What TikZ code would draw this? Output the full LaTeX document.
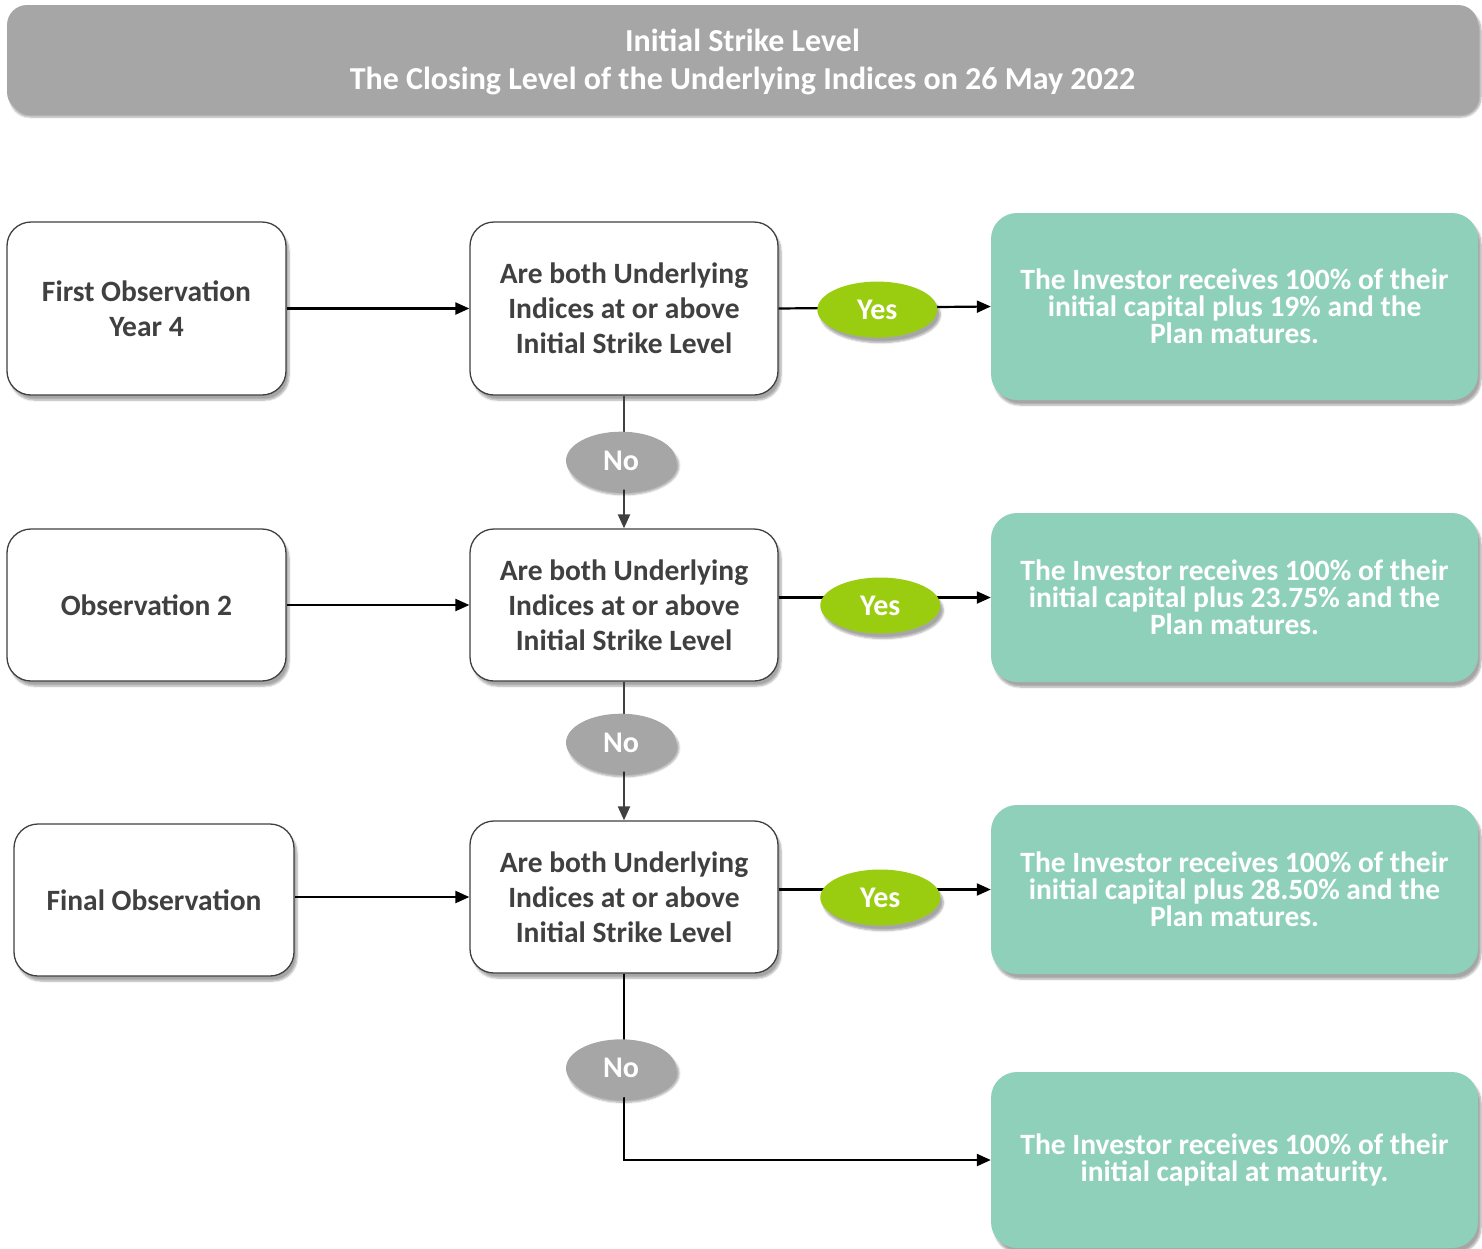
\documentclass[tikz,border=0pt]{standalone}
\usepackage{fontspec}
\setmainfont{Carlito}
\usetikzlibrary{arrows.meta,shapes.geometric,shadows.blur}
\definecolor{hdrgray}{HTML}{A6A6A6}
\definecolor{teal}{HTML}{8FD0BB}
\definecolor{yesgreen}{RGB}{154,205,16}
\definecolor{txtdark}{HTML}{404040}
\tikzset{
  shd/.style={blur shadow={shadow xshift=3pt,shadow yshift=-5pt,shadow opacity=35,shadow blur steps=6}},
  hdr/.style={shd,fill=hdrgray,rounded corners=20pt,inner sep=0pt},
  hdrtext/.style={text=white,font=\fontsize{32}{38}\selectfont\bfseries,align=center,inner sep=0pt},
  obsbox/.style={shd,draw=txtdark,line width=1.3pt,fill=white,rounded corners=24pt,text=txtdark,font=\fontsize{29.5}{35}\selectfont\bfseries,align=center,inner sep=0pt},
  resbox/.style={shd,fill=teal,rounded corners=26pt,text=white,font=\fontsize{29.5}{27}\selectfont\bfseries,align=center,inner sep=0pt},
  yesell/.style={ellipse,shd,fill=yesgreen,text=white,minimum width=120pt,minimum height=56pt,inner sep=0pt,font=\fontsize{30}{30}\selectfont\bfseries},
  noell/.style={ellipse,shd,fill=hdrgray,text=white,minimum width=110pt,minimum height=58pt,inner sep=0pt,font=\fontsize{30}{30}\selectfont\bfseries},
  conn/.style={line width=2.2pt,-{Triangle[length=14pt,width=12pt]}},
}
\begin{document}
\begin{tikzpicture}[x=1pt,y=-1pt]
\useasboundingbox (0,0) rectangle (1482,1248);
% header
\node[hdr,minimum width=1471pt,minimum height=107pt] (hdr) at (742.5,58.5) {};
\node[hdrtext] (hdrt) at ([yshift=-3pt]hdr.center)
  {Initial Strike Level\\The Closing Level of the Underlying Indices on 26 May 2022};
% left boxes
\node[obsbox,minimum width=279pt,minimum height=173pt] (l1) at (146.5,308.5) {First Observation\\Year 4};
\node[obsbox,minimum width=279pt,minimum height=152pt] (l2) at (146.5,605) {Observation 2};
\node[obsbox,minimum width=280pt,minimum height=152pt] (l3) at (154,900) {Final Observation};
% middle boxes
\node[obsbox,minimum width=308pt,minimum height=173pt] (m1) at (624,308.5) {Are both Underlying\\Indices at or above\\Initial Strike Level};
\node[obsbox,minimum width=308pt,minimum height=152pt] (m2) at (624,605) {Are both Underlying\\Indices at or above\\Initial Strike Level};
\node[obsbox,minimum width=308pt,minimum height=152pt] (m3) at (624,897) {Are both Underlying\\Indices at or above\\Initial Strike Level};
% result boxes
\node[resbox,minimum width=487pt,minimum height=187pt] (r1) at (1234.5,306.5) {The Investor receives 100\% of their\\initial capital plus 19\% and the\\Plan matures.};
\node[resbox,minimum width=487pt,minimum height=169pt] (r2) at (1234.5,597.5) {The Investor receives 100\% of their\\initial capital plus 23.75\% and the\\Plan matures.};
\node[resbox,minimum width=487pt,minimum height=169pt] (r3) at (1234.5,889.5) {The Investor receives 100\% of their\\initial capital plus 28.50\% and the\\Plan matures.};
\node[resbox,minimum width=487pt,minimum height=176pt] (r4) at (1234.5,1160) {The Investor receives 100\% of their\\initial capital at maturity.};
% left to middle
\draw[conn,black] (l1.east) -- (m1.west);
\draw[conn,black] (l2.east) -- (m2.west);
\draw[conn,black] (l3.east |- m3.west) -- (m3.west);
% yes
\draw[conn,black] (m1.east) -- node[yesell,pos=0.465,yshift=-2pt] (y1) {Yes} (r1.west);
\draw[conn,black] (m2.east |- r2.west) -- node[yesell,pos=0.479,yshift=-8pt] (y2) {Yes} (r2.west);
\draw[conn,black] (m3.east |- r3.west) -- node[yesell,pos=0.479,yshift=-8pt] (y3) {Yes} (r3.west);
% no
\draw[conn,txtdark] (m1.south) -- node[noell,pos=0.49,xshift=-3pt] (n1) {No} (m2.north);
\draw[conn,txtdark] (m2.south) -- node[noell,pos=0.44,xshift=-3pt] (n2) {No} (m3.north);
\draw[conn,black] (m3.south) |- node[noell,pos=0.254,xshift=-3pt] (n3) {No} (r4.west);
\end{tikzpicture}
\end{document}
